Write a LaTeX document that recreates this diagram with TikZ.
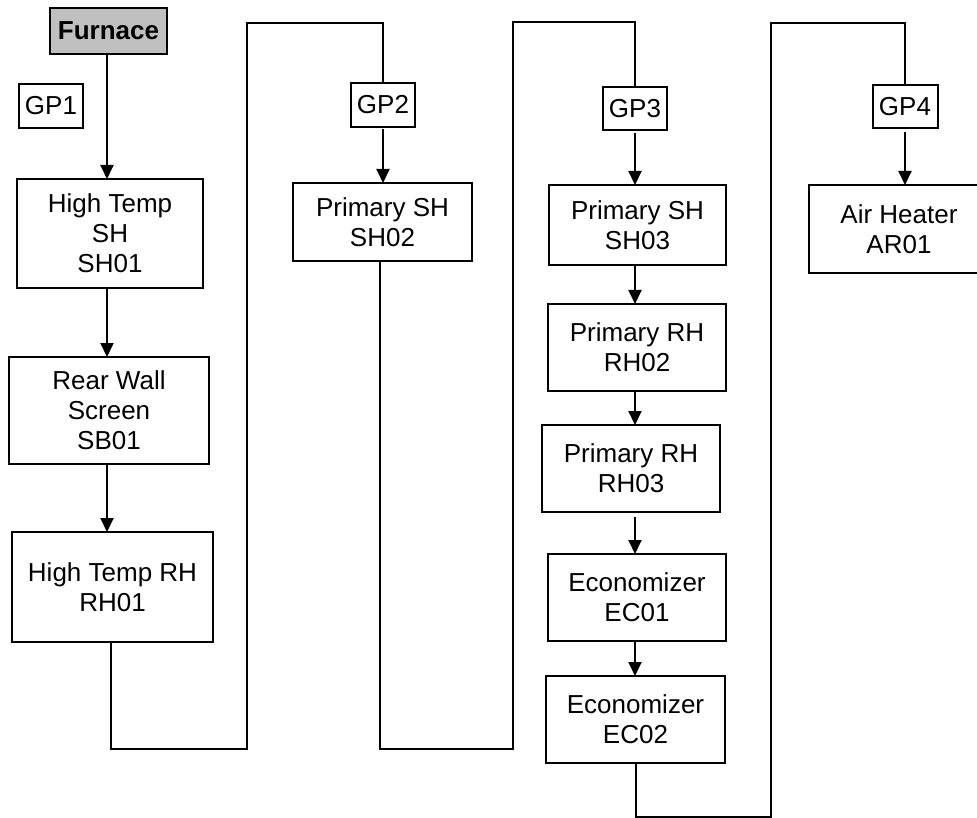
\documentclass[tikz,border=0pt]{standalone}
\usepackage{fontspec}
\setmainfont{Liberation Sans}
\usetikzlibrary{arrows.meta}
\definecolor{furnacegray}{RGB}{192,192,192}
\begin{document}
\begin{tikzpicture}[x=1pt,y=-1pt,
  box/.style={draw, line width=2pt, inner sep=0pt, outer sep=0pt, align=center,
              font=\fontsize{26}{30}\selectfont},
  arr/.style={line width=2pt, -{Triangle[width=13pt,length=14pt]}},
  link/.style={line width=2pt}]
\useasboundingbox (0,0) rectangle (977,818);

% column 1
\node[box, fill=furnacegray, minimum width=117pt, minimum height=46pt,
      font=\fontsize{26}{30}\selectfont\bfseries] (furnace) at (108.5,31) {Furnace};
\node[box, minimum width=64pt, minimum height=44pt] (gp1) at (51,106) {GP1};
\node[box, minimum width=186pt, minimum height=109pt] (sh01) at (110,233.5) {High Temp\\SH\\SH01};
\node[box, minimum width=200pt, minimum height=107pt] (sb01) at (109,410.5) {Rear Wall\\Screen\\SB01};
\node[box, minimum width=201pt, minimum height=110pt] (rh01) at (112.5,587) {High Temp RH\\RH01};

% column 2
\node[box, minimum width=64pt, minimum height=44pt] (gp2) at (383,105) {GP2};
\node[box, minimum width=179pt, minimum height=78pt] (sh02) at (382.5,222) {Primary SH\\SH02};

% column 3
\node[box, minimum width=64pt, minimum height=43pt] (gp3) at (635,108.5) {GP3};
\node[box, minimum width=177pt, minimum height=80pt] (sh03) at (637.5,225) {Primary SH\\SH03};
\node[box, minimum width=178pt, minimum height=87pt] (rh02) at (637,347.5) {Primary RH\\RH02};
\node[box, minimum width=178pt, minimum height=87pt] (rh03) at (631,468.5) {Primary RH\\RH03};
\node[box, minimum width=178pt, minimum height=87pt] (ec01) at (637,597.5) {Economizer\\EC01};
\node[box, minimum width=179pt, minimum height=87pt] (ec02) at (635.5,719.5) {Economizer\\EC02};

% column 4
\node[box, minimum width=65pt, minimum height=43pt] (gp4) at (905,106.5) {GP4};
\node[box, minimum width=180pt, minimum height=88pt] (ar01) at (899,229) {Air Heater\\AR01};

% helper coordinates
\coordinate (colA) at (107,0);
\coordinate (colC) at (635,0);
\coordinate (l1a) at (247,749);
\coordinate (l1b) at (383,23);
\coordinate (l2a) at (513,749);
\coordinate (l2b) at (635,22);
\coordinate (l3a) at (771,817);
\coordinate (l3b) at (905,23);

% column 1 arrows
\draw[arr] (colA |- furnace.south) -- (colA |- sh01.north);
\draw[arr] (colA |- sh01.south) -- (colA |- sb01.north);
\draw[arr] (colA |- sb01.south) -- (colA |- rh01.north);

% loop 1
\draw[link] (rh01.south -| 111,0) |- (l1a) |- (l1b) -- (gp2.north);
\draw[arr, shorten <=2pt] (gp2.south) -- (gp2.south |- sh02.north);

% loop 2
\draw[link] (sh02.south -| 380,0) |- (l2a) |- (l2b) -- (gp3.north);
\draw[arr, shorten <=3pt] (gp3.south) -- (gp3.south |- sh03.north);

% column 3 arrows
\draw[arr] (colC |- sh03.south) -- (colC |- rh02.north);
\draw[arr] (colC |- rh02.south) -- (colC |- rh03.north);
\draw[arr, shorten <=5pt] (colC |- rh03.south) -- (colC |- ec01.north);
\draw[arr] (colC |- ec01.south) -- (colC |- ec02.north);

% loop 3
\draw[link] (ec02.south -| 636,0) |- (l3a) |- (l3b) -- (gp4.north);
\draw[arr, shorten <=4pt] (gp4.south) -- (gp4.south |- ar01.north);
\end{tikzpicture}
\end{document}
